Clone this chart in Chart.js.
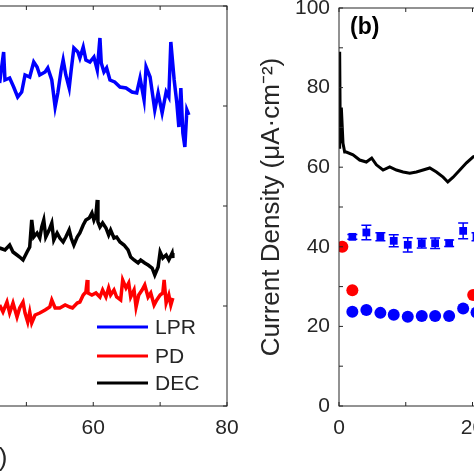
<!DOCTYPE html>
<html>
<head>
<meta charset="utf-8">
<script src="https://cdn.jsdelivr.net/npm/chart.js@4.4.1/dist/chart.umd.min.js"></script>
<style>
  html, body { margin: 0; padding: 0; width: 474px; height: 474px; overflow: hidden; background: #fff; }
  body { position: relative; }
  canvas { position: absolute; top: 0; }
  #panel_a { left: -320px; }
  #panel_b { left: 240px; }
</style>
</head>
<body>
<canvas id="panel_a" width="567" height="474"></canvas>
<canvas id="panel_b" width="386" height="474"></canvas>
<script>
// panel (a): only the right end of the time series is inside the picture
var lprTime = [46.0, 46.6, 46.8, 47.5, 48.1, 48.7, 49.3, 49.8, 50.5, 51.1,
  51.6, 52.0, 52.8, 53.2, 53.8, 54.3, 54.7, 55.2, 55.5, 55.9,
  56.4, 56.7, 57.1, 57.7, 58.0, 58.5, 58.9, 59.5, 60.1, 60.6,
  61.0, 61.2, 61.6, 62.0, 62.5, 63.2, 64.0, 64.9, 65.8, 66.5,
  67.0, 67.6, 67.9, 68.5, 69.2, 69.7, 70.3, 70.9, 71.3, 71.6,
  72.1, 72.5, 72.8, 73.1, 73.4, 73.7, 74.0, 74.3];
var lprValue = [64.6, 70.8, 65.2, 65.6, 63.8, 61.8, 62.8, 66.2, 65.8, 68.8,
  67.8, 66.2, 66.8, 67.6, 65.2, 59.8, 62.6, 67.2, 69.2, 66.2,
  63.6, 67.2, 71.6, 70.8, 69.6, 71.8, 69.2, 68.8, 69.8, 67.2,
  73.6, 68.6, 66.8, 67.6, 65.2, 64.8, 63.8, 63.6, 62.8, 62.6,
  65.6, 61.2, 67.8, 65.8, 59.2, 62.6, 58.6, 62.8, 61.8, 72.8,
  65.2, 60.6, 55.8, 63.6, 54.6, 51.8, 59.2, 58.2];

var pdTime = [46.0, 46.5, 47.1, 47.5, 48.0, 48.6, 49.0, 49.5, 49.8, 50.2,
  50.5, 50.8, 51.3, 52.0, 52.8, 53.5, 53.8, 54.3, 55.0, 55.8,
  56.5, 56.9, 57.6, 58.0, 58.5, 58.9, 59.1, 59.2, 59.8, 60.4,
  61.0, 61.4, 61.9, 62.3, 62.6, 63.1, 63.5, 64.1, 64.4, 64.9,
  65.3, 65.6, 66.1, 66.4, 66.8, 67.3, 67.7, 68.2, 68.6, 69.1,
  69.5, 70.0, 70.4, 70.6, 70.9, 71.3, 71.6, 71.9];
var pdValue = [20.2, 18.8, 20.8, 18.6, 20.6, 17.8, 19.6, 20.8, 18.6, 16.8,
  18.8, 16.6, 18.2, 18.6, 19.2, 19.8, 21.2, 19.6, 19.6, 20.2,
  19.8, 19.6, 20.6, 20.8, 22.2, 22.8, 25.2, 22.6, 22.2, 22.6,
  21.8, 23.2, 21.8, 23.6, 22.2, 23.2, 21.8, 21.2, 25.2, 23.6,
  24.6, 21.8, 23.2, 19.8, 22.2, 23.2, 24.2, 21.8, 22.6, 20.2,
  21.2, 22.2, 22.6, 25.2, 20.6, 22.2, 20.2, 21.6];

var decTime = [46.0, 46.8, 47.5, 48.0, 48.6, 49.0, 49.5, 50.1, 50.5, 50.8,
  51.1, 51.6, 52.0, 52.3, 52.6, 52.9, 53.4, 53.8, 54.1, 54.6,
  55.0, 55.5, 55.9, 56.4, 56.7, 57.1, 57.6, 58.0, 58.5, 58.9,
  59.4, 59.8, 60.1, 60.4, 60.6, 60.7, 61.0, 61.4, 61.9, 62.3,
  62.6, 63.1, 63.5, 64.0, 64.6, 65.2, 65.6, 66.1, 66.7, 67.1,
  67.7, 68.2, 68.8, 69.2, 69.7, 70.0, 70.4, 70.9, 71.3, 71.8, 71.9];
var decValue = [31.6, 31.2, 32.2, 30.8, 30.2, 29.8, 29.2, 30.8, 31.8, 37.2,
  33.8, 34.6, 33.6, 35.8, 37.2, 33.8, 35.2, 36.6, 33.2, 34.6,
  33.6, 32.8, 33.8, 35.2, 33.6, 32.2, 33.8, 34.6, 36.2, 37.2,
  37.6, 38.6, 37.2, 38.2, 41.2, 36.8, 35.8, 36.6, 35.6, 34.2,
  35.2, 33.6, 33.8, 32.8, 32.2, 31.2, 29.8, 29.2, 28.6, 29.2,
  28.6, 28.2, 27.6, 26.2, 27.8, 30.8, 29.6, 30.2, 29.2, 30.6, 29.6];

// panel (b): current density
var decTimeB = [0, 0.1, 0.2, 0.35, 0.6, 0.85, 1.1, 2.1, 3.1, 4.1,
  4.9, 5.6, 6.6, 7.6, 8.6, 9.6, 10.6, 11.6, 12.6, 13.6,
  14.6, 15.6, 16.3, 17.1, 18.1, 19.1, 20.1, 21.0];
var decDensity = [65.0, 89.0, 66.0, 75.0, 66.0, 63.8, 63.8, 63.1, 61.8, 61.3,
  62.3, 60.6, 59.3, 60.1, 59.3, 58.8, 58.5, 58.8, 59.3, 59.8,
  58.8, 57.5, 56.3, 57.5, 59.3, 61.1, 62.6, 63.1];

var sampleTime = [2.0, 4.1, 6.2, 8.2, 10.3, 12.4, 14.4, 16.5, 18.6, 20.6];
var lprSquare = [42.5, 43.6, 42.5, 41.5, 40.5, 40.9, 40.9, 40.9, 44.0, 42.5];
var lprSquareErr = [0.6, 1.8, 1.0, 1.5, 1.8, 1.2, 1.3, 0.8, 2.0, 1.0];
var lprCircle = [23.7, 24.1, 23.4, 22.9, 22.4, 22.6, 22.6, 22.6, 24.5, 23.5];

var pdTimeB = [0.5, 2.0, 20.1];
var pdDensity = [40.0, 29.1, 27.9];

var axisColor = '#262626';
Chart.defaults.font.family = "'Liberation Sans', Arial, Helvetica, sans-serif";
Chart.defaults.color = axisColor;

var toPoints = function(xs, ys){
  return xs.map(function(v, i){ return {x: v, y: ys[i]}; });
};

// box round the plot with the ticks pointing inwards, like matlab
var boxPlugin = {
  id: 'box',
  afterDatasetsDraw: function(chart){
    var ctx = chart.ctx, a = chart.chartArea;
    var x = chart.scales.x, y = chart.scales.y;
    var len = 4;
    ctx.save();
    ctx.strokeStyle = axisColor;
    ctx.lineWidth = 1;
    ctx.strokeRect(a.left, a.top, a.right - a.left, a.bottom - a.top);
    ctx.beginPath();
    x.ticks.forEach(function(t){
      var px = x.getPixelForValue(t.value);
      ctx.moveTo(px, a.bottom); ctx.lineTo(px, a.bottom - len);
      ctx.moveTo(px, a.top); ctx.lineTo(px, a.top + len);
    });
    y.ticks.forEach(function(t){
      var py = y.getPixelForValue(t.value);
      ctx.moveTo(a.left, py); ctx.lineTo(a.left + len, py);
      ctx.moveTo(a.right, py); ctx.lineTo(a.right - len, py);
    });
    ctx.stroke();
    ctx.restore();
  }
};

// legend without a box, lower right of panel (a)
var legendPlugin = {
  id: 'lineLegend',
  afterDraw: function(chart, args, opts){
    if (!opts.show) return;
    var ctx = chart.ctx, a = chart.chartArea;
    ctx.save();
    ctx.font = "21px 'Liberation Sans', Arial, sans-serif";
    ctx.textBaseline = 'middle';
    ctx.fillStyle = axisColor;
    chart.data.datasets.forEach(function(ds, i){
      var py = a.bottom - opts.rows[i];
      ctx.strokeStyle = ds.borderColor;
      ctx.lineWidth = 3;
      ctx.beginPath();
      ctx.moveTo(a.right - 130, py);
      ctx.lineTo(a.right - 79, py);
      ctx.stroke();
      ctx.fillText(ds.label, a.right - 72, py + 1);
    });
    ctx.restore();
  }
};

// vertical error bars with caps, under the markers
var errorBarPlugin = {
  id: 'errorBars',
  beforeDatasetsDraw: function(chart){
    var ctx = chart.ctx;
    var x = chart.scales.x, y = chart.scales.y;
    ctx.save();
    chart.data.datasets.forEach(function(ds){
      if (!ds.errorBars) return;
      ctx.strokeStyle = ds.backgroundColor;
      ctx.lineWidth = 1.5;
      ctx.beginPath();
      ds.data.forEach(function(p, i){
        var px = x.getPixelForValue(p.x);
        var top = y.getPixelForValue(p.y + ds.errorBars[i]);
        var bot = y.getPixelForValue(p.y - ds.errorBars[i]);
        ctx.moveTo(px, top); ctx.lineTo(px, bot);
        ctx.moveTo(px - 5, top); ctx.lineTo(px + 5, top);
        ctx.moveTo(px - 5, bot); ctx.lineTo(px + 5, bot);
      });
      ctx.stroke();
    });
    ctx.restore();
  }
};

// panel letter
var letterPlugin = {
  id: 'panelLetter',
  afterDraw: function(chart, args, opts){
    if (!opts.text) return;
    var ctx = chart.ctx, a = chart.chartArea;
    ctx.save();
    ctx.font = "bold 23px 'Liberation Sans', Arial, sans-serif";
    ctx.fillStyle = '#000';
    ctx.textBaseline = 'middle';
    ctx.fillText(opts.text, a.left + 11, a.top + 20);
    ctx.restore();
  }
};

var noPadding = function(s){
  s.paddingTop = 0; s.paddingBottom = 0; s.paddingLeft = 0; s.paddingRight = 0;
};

var everyOther = function(v){ return v % 20 === 0 ? v : ''; };

var xAxis = function(max, title){
  return {
    type: 'linear', min: 0, max: max,
    afterFit: function(s){ s.height = 68; noPadding(s); },
    grid: { display: false, drawTicks: false },
    border: { display: false },
    ticks: { stepSize: 10, padding: 10, autoSkip: false, maxRotation: 0,
             font: { size: 21 }, callback: everyOther },
    title: { display: !!title, text: title || '', font: { size: 26 },
             padding: { top: 0, bottom: 0 } }
  };
};

new Chart(document.getElementById('panel_a').getContext('2d'), {
  type: 'scatter',
  data: {
    datasets: [
      { label: 'LPR', data: toPoints(lprTime, lprValue), showLine: true,
        borderColor: '#0000ff', borderWidth: 3.5, pointRadius: 0 },
      { label: 'PD', data: toPoints(pdTime, pdValue), showLine: true,
        borderColor: '#ff0000', borderWidth: 3.5, pointRadius: 0 },
      { label: 'DEC', data: toPoints(decTime, decValue), showLine: true,
        borderColor: '#000000', borderWidth: 3.5, pointRadius: 0 }
    ]
  },
  options: {
    responsive: false,
    animation: false,
    layout: { padding: { left: 12, right: 20, top: 6, bottom: 0 } },
    plugins: {
      legend: { display: false },
      tooltip: { enabled: false },
      lineLegend: { show: true, rows: [79, 50, 23] }
    },
    scales: {
      x: xAxis(80, 'Time (h)'),
      y: { min: 0, max: 80,
           afterFit: function(s){ s.width = 0; noPadding(s); },
           grid: { display: false }, border: { display: false },
           ticks: { display: false, stepSize: 20 } }
    }
  },
  plugins: [boxPlugin, legendPlugin]
});

new Chart(document.getElementById('panel_b').getContext('2d'), {
  type: 'scatter',
  data: {
    datasets: [
      { label: 'DEC', data: toPoints(decTimeB, decDensity), showLine: true,
        borderColor: '#000000', borderWidth: 3, pointRadius: 0 },
      { label: 'LPR (square)', data: toPoints(sampleTime, lprSquare),
        errorBars: lprSquareErr, pointStyle: 'rect', pointRadius: 5.5,
        backgroundColor: '#0000ff', borderColor: '#0000ff', borderWidth: 0 },
      { label: 'LPR (circle)', data: toPoints(sampleTime, lprCircle),
        pointRadius: 6, backgroundColor: '#0000ff', borderColor: '#0000ff', borderWidth: 0 },
      { label: 'PD', data: toPoints(pdTimeB, pdDensity),
        pointRadius: 6, backgroundColor: '#ff0000', borderColor: '#ff0000', borderWidth: 0 }
    ]
  },
  options: {
    responsive: false,
    animation: false,
    layout: { padding: { left: 0, right: 20, top: 8, bottom: 0 } },
    plugins: {
      legend: { display: false },
      tooltip: { enabled: false },
      panelLetter: { text: '(b)' }
    },
    scales: {
      x: xAxis(40),
      y: { min: 0, max: 100,
           afterFit: function(s){ s.width = 99; noPadding(s); },
           grid: { display: false, drawTicks: false }, border: { display: false },
           ticks: { stepSize: 10, padding: 9, autoSkip: false, font: { size: 21 },
                    callback: everyOther },
           title: { display: true, text: 'Current Density (\u03bcA\u00b7cm\u207b\u00b2)',
                    font: { size: 26 }, padding: { top: 16, bottom: 0 } } }
    }
  },
  plugins: [boxPlugin, errorBarPlugin, letterPlugin]
});
</script>
</body>
</html>
